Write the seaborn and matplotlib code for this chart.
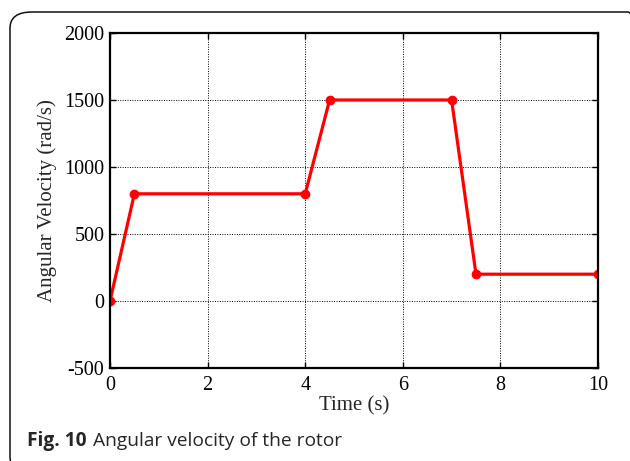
import numpy as np
import pandas as pd
import seaborn as sns
from matplotlib import pyplot as plt
from matplotlib.patches import FancyBboxPatch

# datos
time_s = [0, 0.5, 4, 4.5, 7, 7.5, 10]
omega = [0, 800, 800, 1500, 1500, 200, 200]
x_ticks = [0, 2, 4, 6, 8, 10]
y_ticks = [-500, 0, 500, 1000, 1500, 2000]

sns.set_style("ticks")
plt.rcParams['font.family'] = ['Liberation Serif', 'DejaVu Serif']
plt.rcParams['axes.unicode_minus'] = False

df = pd.DataFrame({'t': time_s, 'w': omega})

fig = plt.figure(figsize=(6.3, 4.61), dpi=100)
ax = fig.add_axes([110 / 630, 1 - 368 / 461, 488 / 630, 335 / 461])

sns.lineplot(data=df, x='t', y='w', ax=ax, color='#ff0000', linewidth=2.3,
             marker='o', markersize=7, markeredgewidth=0, sort=False)

ax.set_xlim(0, 10)
ax.set_ylim(-500, 2000)
ax.set_xticks(x_ticks)
ax.set_yticks(y_ticks)
ax.grid(True, color='black', linestyle=(0, (1, 1.5)), linewidth=0.7)
ax.tick_params(direction='in', length=4, width=1, labelsize=14.5, pad=4,
               top=True, right=True, colors='black')
ax.tick_params(axis='x', pad=6)
for s in ax.spines.values():
    s.set_linewidth(1.6)
    s.set_color('black')
ax.set_xlabel('Time (s)', fontsize=15, labelpad=1)
ax.set_ylabel('Angular Velocity (rad/s)', fontsize=15, labelpad=5)

# marco redondeado alrededor de la figura
frame = FancyBboxPatch((10 / 630, -12 / 461), 640 / 630, 461 / 461,
                       boxstyle='round,pad=0,rounding_size=0.035',
                       transform=fig.transFigure, fill=False,
                       edgecolor='#111111', linewidth=1.1, clip_on=False)
fig.add_artist(frame)

# pie de figura
t = fig.text(27 / 630, 1 - 441 / 461, 'Fig. 10', fontsize=13.8, fontweight='bold',
             family='Open Sans', va='center', ha='left')
fig.canvas.draw()
bb = t.get_window_extent()
fig.text((bb.x1 + 6) / 630, 1 - 441 / 461, 'Angular velocity of the rotor',
         fontsize=13.8, family='Open Sans', va='center', ha='left')

fig.savefig('out.png', dpi=100)
